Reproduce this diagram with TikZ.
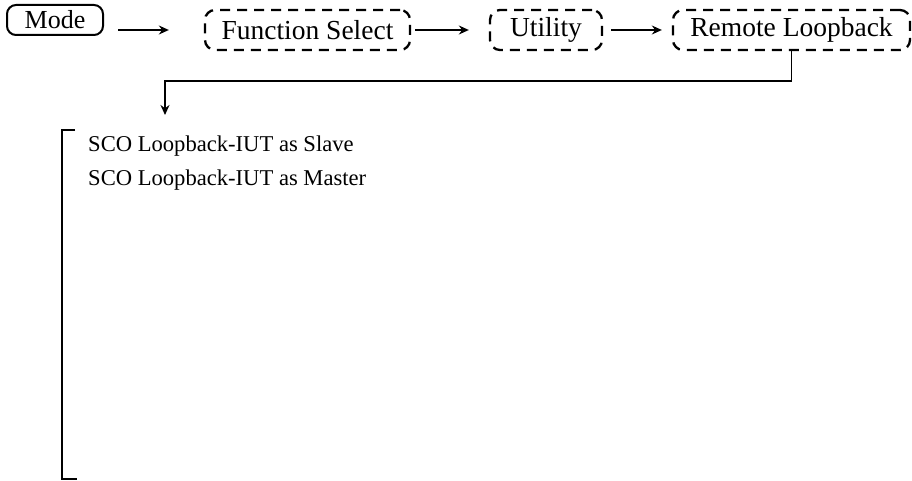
\documentclass[tikz,border=0pt]{standalone}
\usepackage{fontspec}
\setmainfont{Liberation Serif}
\usetikzlibrary{positioning,arrows.meta}

\begin{document}
\begin{tikzpicture}[x=1pt, y=-1pt, font=\fontsize{27.5}{32}\selectfont,
  menubox/.style={draw, line width=2pt, rounded corners=9pt, inner sep=0pt, minimum height=30pt, font=\fontsize{26}{30}\selectfont},
  optbox/.style={draw, line width=2.3pt, dash pattern=on 10pt off 7pt, rounded corners=10pt, inner sep=0pt, minimum height=40pt},
  flow/.style={-{Stealth[length=10pt,width=9pt]}, line width=1.4pt},
  item/.style={anchor=west, inner sep=0pt, font=\fontsize{22.6}{27}\selectfont}]
\useasboundingbox (0,0) rectangle (912,481);
\node[menubox, minimum width=96pt] (mode) at (55,20) {Mode};
\node[optbox, minimum width=205pt] (fsel) at (307.5,30) {Function Select};
\node[optbox, minimum width=112pt] (util) at (546,30) {Utility};
\node[optbox, minimum width=237pt] (rloop) at (791.5,30) {Remote Loopback};
\draw[flow, shorten <=14pt, shorten >=35pt] (mode.east |- fsel.west) -- (fsel.west);
\draw[flow, shorten <=4pt, shorten >=20pt] (fsel.east) -- (util.west);
\draw[flow, shorten <=8pt, shorten >=10pt] (util.east) -- (rloop.west);
% down to the list
\coordinate (drop) at (165,115);
\draw[flow] (rloop.south) -- ++(0,30) -| (drop);
\draw[line width=1.5pt] (75,130) -| (62,479) -- (77,479);
\node[item] (slave) at (88,146) {SCO Loopback-IUT as Slave};
\node[item] (master) at (88,180) {SCO Loopback-IUT as Master};
\end{tikzpicture}
\end{document}
